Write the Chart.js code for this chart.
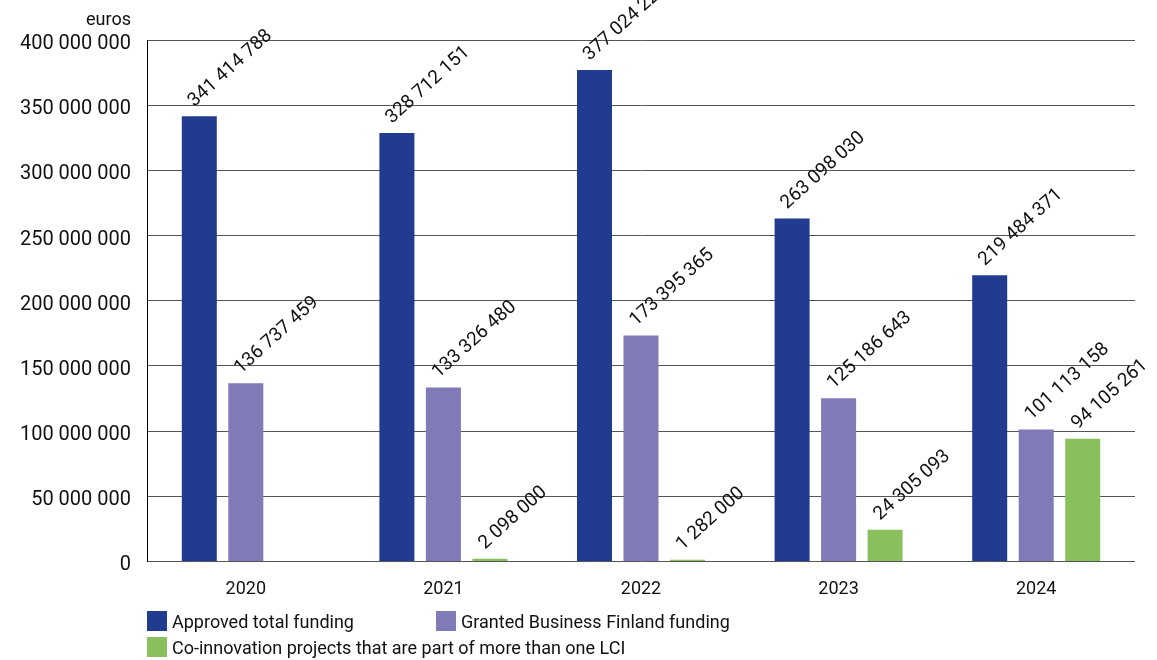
<!DOCTYPE html>
<html>
<head>
<meta charset="utf-8">
<script src="https://cdn.jsdelivr.net/npm/chart.js@4/dist/chart.umd.min.js"></script>
<style>
  html, body { margin: 0; padding: 0; background: #fff; }
  #wrap { position: relative; width: 1157px; height: 660px; }
  #fundingChart { display: block; }
  #legend {
    position: absolute; left: 147px; top: 611px;
    display: grid; grid-template-columns: 289px auto; row-gap: 6px;
    font: 18px Roboto, sans-serif; color: #111;
  }
  #legend div { display: flex; align-items: center; height: 20px; white-space: nowrap; }
  #legend span { display: inline-block; flex: 0 0 20px; width: 20px; height: 20px; margin-right: 5px; }
</style>
</head>
<body>
<div id="wrap">
  <canvas id="fundingChart" width="1157" height="660"></canvas>
  <div id="legend"></div>
</div>
<script>
const years = ['2020', '2021', '2022', '2023', '2024'];
const approvedTotal = [341414788, 328712151, 377024225, 263098030, 219484371];
const grantedBF = [136737459, 133326480, 173395365, 125186643, 101113158];
const coInnovation = [null, 2098000, 1282000, 24305093, 94105261];
const yTicks = [0, 50000000, 100000000, 150000000, 200000000, 250000000, 300000000, 350000000, 400000000];

const fmt = v => String(v).replace(/\B(?=(\d{3})+(?!\d))/g, ' ');

// numbers written diagonally above each bar
const valueLabels = {
    id: 'valueLabels',
    afterDatasetsDraw(chart) {
        const ctx = chart.ctx;
        ctx.save();
        ctx.font = '19px Roboto';
        ctx.fillStyle = '#111';
        ctx.textAlign = 'left';
        ctx.textBaseline = 'alphabetic';
        chart.data.datasets.forEach((ds, i) => {
            chart.getDatasetMeta(i).data.forEach((bar, j) => {
                const v = ds.data[j];
                if (v == null) return;
                ctx.save();
                ctx.translate(bar.x - 5, bar.y - 9);
                ctx.rotate(-42 * Math.PI / 180);
                ctx.fillText(fmt(v), 0, 0);
                ctx.restore();
            });
        });
        ctx.restore();
    }
};

// unit text above the y axis
const unitLabel = {
    id: 'unitLabel',
    afterDraw(chart) {
        const ctx = chart.ctx;
        const y = chart.scales.y;
        ctx.save();
        ctx.font = '18px Roboto';
        ctx.fillStyle = '#111';
        ctx.textAlign = 'right';
        ctx.textBaseline = 'middle';
        ctx.fillText('euros', y.right - 16, 20);
        ctx.restore();
    }
};

const chart = new Chart(document.getElementById('fundingChart'), {
    type: 'bar',
    data: {
        labels: years,
        datasets: [
            { label: 'Approved total funding', data: approvedTotal, backgroundColor: '#213C8E' },
            { label: 'Granted Business Finland funding', data: grantedBF, backgroundColor: '#807AB6' },
            { label: 'Co-innovation projects that are part of more than one LCI', data: coInnovation, backgroundColor: '#89BF5C' }
        ]
    },
    options: {
        responsive: false,
        animation: false,
        layout: { padding: { top: 40, right: 22, bottom: 51, left: 0 } },
        datasets: { bar: { categoryPercentage: 0.706, barPercentage: 0.753 } },
        plugins: {
            legend: { display: false },
            tooltip: { enabled: false }
        },
        scales: {
            x: {
                grid: { display: false },
                border: { display: false },
                ticks: { color: '#111', font: { family: 'Roboto', size: 18 }, padding: 9 }
            },
            y: {
                min: 0,
                max: 400000000,
                afterBuildTicks: s => { s.ticks = yTicks.map(v => ({ value: v })); },
                afterFit: s => { s.width = 147; },
                grid: { color: '#555', lineWidth: 1, drawTicks: false },
                border: { color: '#000', width: 1 },
                ticks: {
                    color: '#111',
                    font: { family: 'Roboto', size: 20 },
                    padding: 16,
                    labelOffset: 4,
                    callback: v => fmt(v)
                }
            }
        }
    },
    plugins: [valueLabels, unitLabel]
});

// legend in two rows under the axis
const legend = document.getElementById('legend');
chart.data.datasets.forEach(ds => {
    const item = document.createElement('div');
    const box = document.createElement('span');
    box.style.background = ds.backgroundColor;
    item.appendChild(box);
    item.appendChild(document.createTextNode(ds.label));
    legend.appendChild(item);
});
</script>
</body>
</html>
